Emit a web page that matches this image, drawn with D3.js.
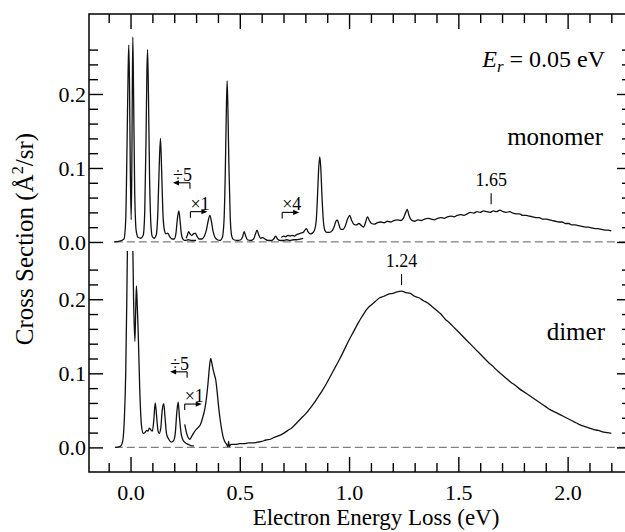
<!DOCTYPE html>
<html>
<head>
<meta charset="utf-8">
<script src="https://cdn.jsdelivr.net/npm/d3@7"></script>
<style>
  body { margin: 0; background: #fff; }
  svg text { font-family: "Liberation Serif", "LiberationSerif", Tinos, "Nimbus Roman", "Nimbus Roman No9 L", Times, "DejaVu Serif", serif !important; fill: #000; }
</style>
</head>
<body>
<script>
const width = 625;
const height = 532;

// axis ticks
const energyMajor = [0.0, 0.5, 1.0, 1.5, 2.0];
const energyMinor = [-0.1, 0.1, 0.2, 0.3, 0.4, 0.6, 0.7, 0.8, 0.9, 1.1, 1.2, 1.3, 1.4, 1.6, 1.7, 1.8, 1.9, 2.1, 2.2];
const csMajor = [0.0, 0.1, 0.2];
const csMinorTop = [0.02, 0.04, 0.06, 0.08, 0.12, 0.14, 0.16, 0.18, 0.22, 0.24, 0.26];
const csMinorBottom = [0.02, 0.04, 0.06, 0.08, 0.12, 0.14, 0.16, 0.18, 0.22, 0.24];

// monomer spectrum, [energy loss (eV), cross section (A^2/sr)] as plotted
const monomerDiv5 = [
  [-0.075, 0.000], [-0.050, 0.001], [-0.030, 0.004], [-0.022, 0.030], [-0.016, 0.130], [-0.011, 0.230],
  [-0.008, 0.266], [-0.005, 0.220], [-0.001, 0.100], [0.003, 0.030], [0.006, 0.100], [0.008, 0.200],
  [0.0105, 0.277], [0.014, 0.200], [0.019, 0.070], [0.026, 0.015], [0.035, 0.006], [0.047, 0.005],
  [0.058, 0.009], [0.065, 0.040], [0.071, 0.140], [0.075, 0.230], [0.078, 0.260], [0.082, 0.200],
  [0.087, 0.090], [0.094, 0.020], [0.100, 0.007], [0.108, 0.005], [0.118, 0.010], [0.125, 0.040],
  [0.131, 0.100], [0.137, 0.140], [0.142, 0.100], [0.148, 0.040], [0.155, 0.016], [0.162, 0.011],
  [0.170, 0.012], [0.178, 0.008], [0.190, 0.004], [0.200, 0.004], [0.208, 0.012], [0.214, 0.030],
  [0.221, 0.042], [0.227, 0.028], [0.233, 0.010], [0.240, 0.004], [0.250, 0.002], [0.265, 0.003],
  [0.280, 0.002], [0.300, 0.002]
];
const monomerX1 = [
  [0.255, 0.005], [0.260, 0.009], [0.266, 0.014], [0.272, 0.011], [0.280, 0.009], [0.288, 0.011],
  [0.296, 0.012], [0.304, 0.008], [0.314, 0.004], [0.326, 0.004], [0.338, 0.008], [0.347, 0.016],
  [0.355, 0.028], [0.363, 0.036], [0.370, 0.028], [0.378, 0.014], [0.387, 0.006], [0.397, 0.003],
  [0.410, 0.002], [0.420, 0.006], [0.428, 0.030], [0.434, 0.100], [0.438, 0.170], [0.442, 0.218],
  [0.446, 0.175], [0.450, 0.105], [0.456, 0.035], [0.463, 0.008], [0.472, 0.003], [0.490, 0.002],
  [0.505, 0.003], [0.513, 0.007], [0.520, 0.014], [0.527, 0.008], [0.535, 0.003], [0.550, 0.002],
  [0.563, 0.004], [0.572, 0.011], [0.579, 0.016], [0.586, 0.010], [0.595, 0.005], [0.605, 0.006],
  [0.615, 0.004], [0.630, 0.002], [0.645, 0.002], [0.655, 0.004], [0.664, 0.008], [0.672, 0.004],
  [0.685, 0.002], [0.700, 0.002], [0.715, 0.003], [0.730, 0.002], [0.745, 0.003], [0.760, 0.003],
  [0.775, 0.004], [0.790, 0.005]
];
const monomerX4 = [
  [0.690, 0.006], [0.700, 0.008], [0.710, 0.007], [0.720, 0.009], [0.730, 0.008], [0.740, 0.009],
  [0.750, 0.008], [0.760, 0.010], [0.770, 0.011], [0.780, 0.012], [0.790, 0.013], [0.798, 0.016],
  [0.805, 0.018], [0.812, 0.014], [0.822, 0.011], [0.832, 0.012], [0.842, 0.016], [0.850, 0.030],
  [0.856, 0.065], [0.861, 0.100], [0.866, 0.115], [0.871, 0.098], [0.876, 0.062], [0.882, 0.030],
  [0.889, 0.016], [0.898, 0.013], [0.910, 0.013], [0.922, 0.015], [0.932, 0.021], [0.940, 0.028],
  [0.946, 0.030], [0.953, 0.024], [0.962, 0.017], [0.972, 0.017], [0.983, 0.022], [0.993, 0.031],
  [1.003, 0.036], [1.012, 0.029], [1.022, 0.024], [1.033, 0.023], [1.045, 0.025], [1.057, 0.022],
  [1.066, 0.020], [1.075, 0.026], [1.084, 0.034], [1.093, 0.029], [1.103, 0.025], [1.115, 0.024],
  [1.130, 0.026], [1.145, 0.027], [1.160, 0.026], [1.175, 0.028], [1.190, 0.027], [1.205, 0.029],
  [1.220, 0.030], [1.235, 0.029], [1.248, 0.032], [1.258, 0.039], [1.266, 0.044], [1.274, 0.036],
  [1.284, 0.030], [1.300, 0.028], [1.315, 0.030], [1.330, 0.029], [1.345, 0.031], [1.360, 0.032],
  [1.375, 0.031], [1.390, 0.030], [1.405, 0.032], [1.420, 0.033], [1.435, 0.032], [1.450, 0.034],
  [1.465, 0.035], [1.480, 0.034], [1.495, 0.036], [1.510, 0.037], [1.525, 0.036], [1.540, 0.038],
  [1.555, 0.040], [1.570, 0.039], [1.585, 0.041], [1.600, 0.040], [1.615, 0.042], [1.630, 0.041],
  [1.645, 0.040], [1.660, 0.042], [1.675, 0.041], [1.690, 0.043], [1.705, 0.041], [1.720, 0.040],
  [1.735, 0.041], [1.750, 0.039], [1.765, 0.038], [1.780, 0.038], [1.795, 0.036], [1.810, 0.036],
  [1.825, 0.035], [1.840, 0.034], [1.855, 0.033], [1.870, 0.033], [1.885, 0.031], [1.900, 0.031],
  [1.915, 0.030], [1.930, 0.029], [1.945, 0.028], [1.960, 0.027], [1.975, 0.027], [1.990, 0.025],
  [2.005, 0.025], [2.020, 0.023], [2.035, 0.023], [2.050, 0.022], [2.065, 0.021], [2.080, 0.020],
  [2.095, 0.020], [2.110, 0.019], [2.125, 0.018], [2.140, 0.018], [2.155, 0.017], [2.170, 0.016],
  [2.185, 0.016], [2.200, 0.015]
];

// dimer spectrum (elastic peak runs off the top of the panel)
const dimerDiv5 = [
  [-0.070, 0.000], [-0.050, 0.001], [-0.040, 0.004], [-0.034, 0.012], [-0.028, 0.040], [-0.022, 0.100],
  [-0.017, 0.200], [-0.013, 0.300], [-0.008, 0.450], [-0.001, 0.360], [0.005, 0.420], [0.009, 0.300],
  [0.014, 0.200], [0.020, 0.143], [0.024, 0.190], [0.027, 0.218], [0.031, 0.190], [0.035, 0.157],
  [0.042, 0.080], [0.050, 0.030], [0.058, 0.019], [0.066, 0.020], [0.074, 0.023], [0.080, 0.022],
  [0.086, 0.026], [0.092, 0.024], [0.100, 0.022], [0.106, 0.035], [0.113, 0.060], [0.120, 0.040],
  [0.126, 0.022], [0.131, 0.019], [0.138, 0.025], [0.145, 0.050], [0.152, 0.059], [0.158, 0.040],
  [0.165, 0.018], [0.175, 0.011], [0.187, 0.007], [0.197, 0.009], [0.205, 0.020], [0.212, 0.048],
  [0.218, 0.061], [0.224, 0.040], [0.232, 0.018], [0.240, 0.010], [0.252, 0.006], [0.265, 0.004],
  [0.280, 0.002], [0.290, 0.002]
];
const dimerX1 = [
  [0.248, 0.031], [0.256, 0.020], [0.264, 0.013], [0.271, 0.011], [0.280, 0.015], [0.290, 0.020],
  [0.300, 0.024], [0.310, 0.027], [0.320, 0.031], [0.330, 0.040], [0.340, 0.052], [0.348, 0.068],
  [0.355, 0.088], [0.361, 0.108], [0.367, 0.120], [0.372, 0.114], [0.378, 0.105], [0.384, 0.098],
  [0.390, 0.091], [0.396, 0.076], [0.402, 0.058], [0.409, 0.040], [0.416, 0.026], [0.423, 0.015],
  [0.431, 0.008], [0.440, 0.004], [0.446, 0.001], [0.449, 0.008], [0.452, 0.001], [0.460, 0.004],
  [0.480, 0.004], [0.500, 0.005], [0.520, 0.005], [0.540, 0.006], [0.560, 0.006], [0.580, 0.007],
  [0.600, 0.008], [0.620, 0.010], [0.640, 0.011], [0.660, 0.014], [0.680, 0.016], [0.700, 0.019],
  [0.720, 0.023], [0.740, 0.027], [0.760, 0.033], [0.780, 0.039], [0.800, 0.045], [0.820, 0.052],
  [0.840, 0.060], [0.860, 0.069], [0.880, 0.078], [0.900, 0.088], [0.920, 0.099], [0.940, 0.110],
  [0.960, 0.121], [0.980, 0.133], [1.000, 0.145], [1.020, 0.156], [1.040, 0.167], [1.060, 0.177],
  [1.080, 0.186], [1.100, 0.192], [1.120, 0.197], [1.140, 0.202], [1.160, 0.204], [1.180, 0.207],
  [1.200, 0.208], [1.220, 0.210], [1.240, 0.211], [1.260, 0.209], [1.280, 0.208], [1.300, 0.204],
  [1.320, 0.202], [1.340, 0.198], [1.360, 0.195], [1.380, 0.190], [1.400, 0.185], [1.420, 0.180],
  [1.440, 0.173], [1.460, 0.168], [1.480, 0.162], [1.500, 0.156], [1.520, 0.150], [1.540, 0.144],
  [1.560, 0.138], [1.580, 0.132], [1.600, 0.126], [1.620, 0.120], [1.640, 0.114], [1.660, 0.109],
  [1.680, 0.103], [1.700, 0.098], [1.720, 0.093], [1.740, 0.088], [1.760, 0.084], [1.780, 0.079],
  [1.800, 0.075], [1.820, 0.071], [1.840, 0.067], [1.860, 0.063], [1.880, 0.059], [1.900, 0.055],
  [1.920, 0.051], [1.940, 0.048], [1.960, 0.045], [1.980, 0.042], [2.000, 0.039], [2.020, 0.036],
  [2.040, 0.033], [2.060, 0.030], [2.080, 0.028], [2.100, 0.026], [2.120, 0.024], [2.140, 0.023],
  [2.160, 0.021], [2.180, 0.020], [2.200, 0.019]
];

// scale-factor markers and peak markers
const scaleMarks = [
  { panel: "top", label: "\u00f75", e: 0.272, v: 0.080, dir: -1 },
  { panel: "top", label: "\u00d71", e: 0.274, v: 0.041, dir: 1 },
  { panel: "top", label: "\u00d74", e: 0.694, v: 0.040, dir: 1 },
  { panel: "bottom", label: "\u00f75", e: 0.259, v: 0.102, dir: -1 },
  { panel: "bottom", label: "\u00d71", e: 0.248, v: 0.0585, dir: 1 }
];
const peakMarks = [
  { panel: "top", label: "1.65", e: 1.65, v: 0.051 },
  { panel: "bottom", label: "1.24", e: 1.24, v: 0.219 }
];

const serif = '"Liberation Serif", "LiberationSerif", Tinos, "Nimbus Roman", Times, "DejaVu Serif", serif';

const x = d3.scaleLinear().domain([-0.19, 2.29]).range([89, 631]);
const yTop = d3.scaleLinear().domain([-0.0122, 0.3081]).range([251, 14]);
const yBot = d3.scaleLinear().domain([-0.0332, 0.2651]).range([472, 251]);
const yOf = p => p === "top" ? yTop : yBot;

const svg = d3.select("body").append("svg")
    .attr("width", width)
    .attr("height", height)
    .attr("font-family", serif);

const defs = svg.append("defs");
defs.append("clipPath").attr("id", "clip-top")
  .append("rect").attr("x", 89).attr("y", 14).attr("width", 542).attr("height", 237);
defs.append("clipPath").attr("id", "clip-bottom")
  .append("rect").attr("x", 89).attr("y", 251).attr("width", 542).attr("height", 221);

// zero lines
[yTop, yBot].forEach(y => {
  svg.append("line")
    .attr("x1", x(-0.072)).attr("x2", x(2.29))
    .attr("y1", y(0)).attr("y2", y(0))
    .attr("stroke", "#808080")
    .attr("stroke-width", 1.2)
    .attr("stroke-dasharray", "8,4");
});

function drawLine(data, y, clip) {
  const line = d3.line()
      .x(d => x(d[0]))
      .y(d => y(d[1]))
      .curve(d3.curveMonotoneX);
  svg.append("path")
    .datum(data)
    .attr("clip-path", `url(#${clip})`)
    .attr("fill", "none")
    .attr("stroke", "#111")
    .attr("stroke-width", 1.3)
    .attr("stroke-linejoin", "round")
    .attr("d", line);
}

drawLine(monomerDiv5, yTop, "clip-top");
drawLine(monomerX1, yTop, "clip-top");
drawLine(monomerX4, yTop, "clip-top");
drawLine(dimerDiv5, yBot, "clip-bottom");
drawLine(dimerX1, yBot, "clip-bottom");

// axes
function styleAxis(g) {
  g.attr("font-family", serif).attr("font-size", 22);
  g.select(".domain").remove();
  g.selectAll(".tick line").attr("stroke", "#000").attr("stroke-width", 1.4);
}

svg.append("g").attr("transform", "translate(0,472)")
  .call(d3.axisBottom(x).tickValues(energyMajor).tickSize(-15).tickPadding(12).tickFormat(d3.format(".1f")))
  .call(styleAxis);
svg.append("g").attr("transform", "translate(0,472)")
  .call(d3.axisBottom(x).tickValues(energyMinor).tickSize(-9).tickFormat(""))
  .call(styleAxis);
svg.append("g").attr("transform", "translate(0,14)")
  .call(d3.axisTop(x).tickValues(energyMajor).tickSize(-15).tickFormat(""))
  .call(styleAxis);
svg.append("g").attr("transform", "translate(0,14)")
  .call(d3.axisTop(x).tickValues(energyMinor).tickSize(-9).tickFormat(""))
  .call(styleAxis);

[[yTop, csMinorTop], [yBot, csMinorBottom]].forEach(([y, minor]) => {
  svg.append("g").attr("transform", "translate(89,0)")
    .call(d3.axisLeft(y).tickValues(csMajor).tickSize(-14).tickPadding(3).tickFormat(d3.format(".1f")))
    .call(styleAxis);
  svg.append("g").attr("transform", "translate(89,0)")
    .call(d3.axisLeft(y).tickValues(minor).tickSize(-9).tickFormat(""))
    .call(styleAxis);
  svg.append("g").attr("transform", "translate(631,0)")
    .call(d3.axisRight(y).tickValues(csMajor).tickSize(-14).tickFormat(""))
    .call(styleAxis);
  svg.append("g").attr("transform", "translate(631,0)")
    .call(d3.axisRight(y).tickValues(minor).tickSize(-9).tickFormat(""))
    .call(styleAxis);
});

// frame
svg.append("rect")
  .attr("x", 89).attr("y", 14)
  .attr("width", 542).attr("height", 458)
  .attr("fill", "none")
  .attr("stroke", "#000")
  .attr("stroke-width", 1.5);

// scale-factor markers
scaleMarks.forEach(m => {
  const y = yOf(m.panel);
  const x0 = x(m.e), y0 = y(m.v);
  const x1 = x0 + m.dir * 17;
  svg.append("line")
    .attr("x1", x0).attr("x2", x0).attr("y1", y0).attr("y2", y0 + 6)
    .attr("stroke", "#000").attr("stroke-width", 1.1);
  svg.append("line")
    .attr("x1", x0).attr("x2", x1 - m.dir * 4).attr("y1", y0).attr("y2", y0)
    .attr("stroke", "#000").attr("stroke-width", 1.1);
  svg.append("path")
    .attr("d", `M${x1},${y0}L${x1 - m.dir * 6},${y0 - 2.6}L${x1 - m.dir * 6},${y0 + 2.6}Z`)
    .attr("fill", "#000");
  svg.append("text")
    .attr("x", m.dir < 0 ? x0 + 2 : x0)
    .attr("y", y0 - 2)
    .attr("text-anchor", m.dir < 0 ? "end" : "start")
    .attr("font-size", 18)
    .text(m.label);
});

// peak positions
peakMarks.forEach(m => {
  const y = yOf(m.panel);
  const x0 = x(m.e), y0 = y(m.v);
  svg.append("line")
    .attr("x1", x0).attr("x2", x0).attr("y1", y0).attr("y2", y0 - 11)
    .attr("stroke", "#000").attr("stroke-width", 1.1);
  svg.append("text")
    .attr("x", x0).attr("y", y0 - 18)
    .attr("text-anchor", "middle")
    .attr("font-size", 18)
    .text(m.label);
});

// labels
const er = svg.append("text")
  .attr("x", 605).attr("y", 67)
  .attr("text-anchor", "end")
  .attr("font-size", 24);
er.append("tspan").attr("font-style", "italic").text("E");
er.append("tspan").attr("font-style", "italic").attr("font-size", "0.7em").attr("dy", "0.3em").text("r");
er.append("tspan").attr("dy", "-0.21em").text(" = 0.05 eV");

svg.append("text")
  .attr("x", 603).attr("y", 145)
  .attr("text-anchor", "end")
  .attr("font-size", 25)
  .text("monomer");
svg.append("text")
  .attr("x", 605).attr("y", 340)
  .attr("text-anchor", "end")
  .attr("font-size", 25)
  .text("dimer");

svg.append("text")
  .attr("x", 376).attr("y", 525)
  .attr("text-anchor", "middle")
  .attr("font-size", 23)
  .text("Electron Energy Loss (eV)");

const yl = svg.append("text")
  .attr("transform", "translate(33,239) rotate(-90)")
  .attr("text-anchor", "middle")
  .attr("font-size", 25);
yl.append("tspan").text("Cross Section (\u00c5");
yl.append("tspan").attr("font-size", "0.65em").attr("dy", "-0.6em").text("2");
yl.append("tspan").attr("dy", "0.39em").text("/sr)");
</script>
</body>
</html>
